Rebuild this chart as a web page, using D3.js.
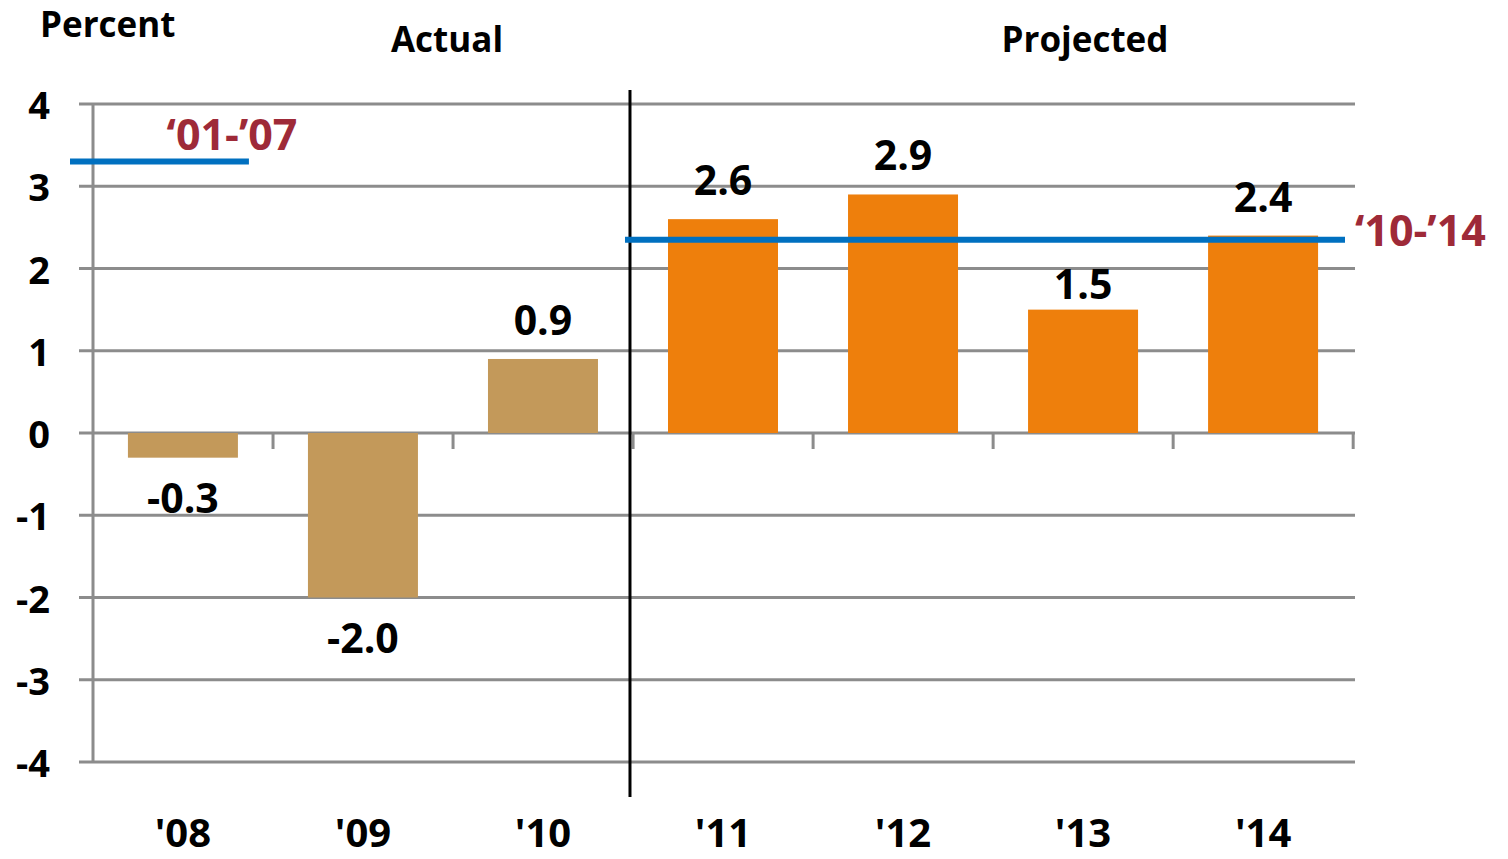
<!DOCTYPE html>
<html>
<head>
<meta charset="utf-8">
<script src="https://cdn.jsdelivr.net/npm/d3@7"></script>
<style>
  body { margin: 0; background: #fff; }
  svg text { font-family: "Open Sans", Lato, sans-serif; font-weight: bold; }
</style>
</head>
<body>
<div id="chart"></div>
<script>
(function() {
  'use strict';

  // 数据
  const years = ["'08", "'09", "'10", "'11", "'12", "'13", "'14"];
  const growth = [-0.3, -2.0, 0.9, 2.6, 2.9, 1.5, 2.4];
  const projected = [false, false, false, true, true, true, true];
  const yTicks = [-4, -3, -2, -1, 0, 1, 2, 3, 4];
  const averages = [
    { label: "\u201801-\u201907", value: 3.3 },
    { label: "\u201810-\u201914", value: 2.35 }
  ];

  const W = 1508, H = 859;
  const COLORS = { actual: '#C3995A', projected: '#EE7F0C', grid: '#8C8C8C', avg: '#0070C0', avgText: '#9E2A38' };

  const svg = d3.select('#chart').append('svg')
    .attr('width', W).attr('height', H);

  const x = d3.scaleBand().domain(years).range([93, 1353])
    .paddingInner(0.389).paddingOuter(0.194);
  const y = d3.scaleLinear().domain([-4, 4]).range([762, 104]);
  const step = x.step();

  // 网格线
  svg.append('g').selectAll('line').data(yTicks).enter().append('line')
    .attr('x1', 79).attr('x2', 1355)
    .attr('y1', d => y(d)).attr('y2', d => y(d))
    .attr('stroke', COLORS.grid).attr('stroke-width', 3);

  // y 轴
  svg.append('line')
    .attr('x1', 93).attr('x2', 93).attr('y1', y(4)).attr('y2', y(-4))
    .attr('stroke', COLORS.grid).attr('stroke-width', 3);

  svg.append('g').selectAll('text').data(yTicks).enter().append('text')
    .attr('x', 50).attr('y', d => y(d) + 15)
    .attr('text-anchor', 'end')
    .attr('font-size', '38px')
    .text(d => d);

  // x 轴刻度（类别边界）
  svg.append('g').selectAll('line').data(years).enter().append('line')
    .attr('x1', d => x(d) - x.paddingOuter() * step + step)
    .attr('x2', d => x(d) - x.paddingOuter() * step + step)
    .attr('y1', y(0)).attr('y2', y(0) + 16)
    .attr('stroke', COLORS.grid).attr('stroke-width', 3);

  // 柱子
  const data = years.map((yr, i) => ({ year: yr, value: growth[i], projected: projected[i] }));

  svg.append('g').selectAll('rect').data(data).enter().append('rect')
    .attr('x', d => x(d.year))
    .attr('width', x.bandwidth())
    .attr('y', d => y(Math.max(0, d.value)))
    .attr('height', d => Math.abs(y(d.value) - y(0)))
    .attr('fill', d => d.projected ? COLORS.projected : COLORS.actual);

  // 数值标签（'13 的标签避开平均线，放得更低）
  svg.append('g').selectAll('text').data(data).enter().append('text')
    .attr('x', d => x(d.year) + x.bandwidth() / 2)
    .attr('y', d => {
      if (d.value < 0) return y(d.value) + 55;
      return y(d.value) - (d.year === "'13" ? 11 : 24);
    })
    .attr('text-anchor', 'middle')
    .attr('font-size', '41px')
    .text(d => d.value.toFixed(1));

  // x 轴标签
  svg.append('g').selectAll('text').data(years).enter().append('text')
    .attr('x', d => x(d) + x.bandwidth() / 2)
    .attr('y', 847)
    .attr('text-anchor', 'middle')
    .attr('font-size', '40px')
    .text(d => d);

  // 实际/预测分隔线
  const divX = x(years[3]) - x.paddingInner() * step / 2 - 3;
  svg.append('line')
    .attr('x1', divX).attr('x2', divX).attr('y1', 90).attr('y2', 797)
    .attr('stroke', '#000').attr('stroke-width', 3);

  // 平均线
  const a0 = averages[0], a1 = averages[1];
  svg.append('line')
    .attr('x1', 70).attr('x2', x(years[0]) + x.bandwidth() + 11)
    .attr('y1', y(a0.value)).attr('y2', y(a0.value))
    .attr('stroke', COLORS.avg).attr('stroke-width', 6);
  svg.append('text')
    .attr('x', 232).attr('y', y(a0.value) - 12)
    .attr('text-anchor', 'middle')
    .attr('font-size', '43px').attr('fill', COLORS.avgText)
    .text(a0.label);

  svg.append('line')
    .attr('x1', divX - 5).attr('x2', 1345)
    .attr('y1', y(a1.value)).attr('y2', y(a1.value))
    .attr('stroke', COLORS.avg).attr('stroke-width', 6);
  svg.append('text')
    .attr('x', 1355).attr('y', y(a1.value) + 6)
    .attr('font-size', '43px').attr('fill', COLORS.avgText)
    .text(a1.label);

  // 标题
  svg.append('text').attr('x', 40).attr('y', 37).attr('font-size', '35px').text('Percent');
  svg.append('text').attr('x', 447).attr('y', 52).attr('text-anchor', 'middle').attr('font-size', '35px').text('Actual');
  svg.append('text').attr('x', 1085).attr('y', 52).attr('text-anchor', 'middle').attr('font-size', '35px').text('Projected');
})();
</script>
</body>
</html>
